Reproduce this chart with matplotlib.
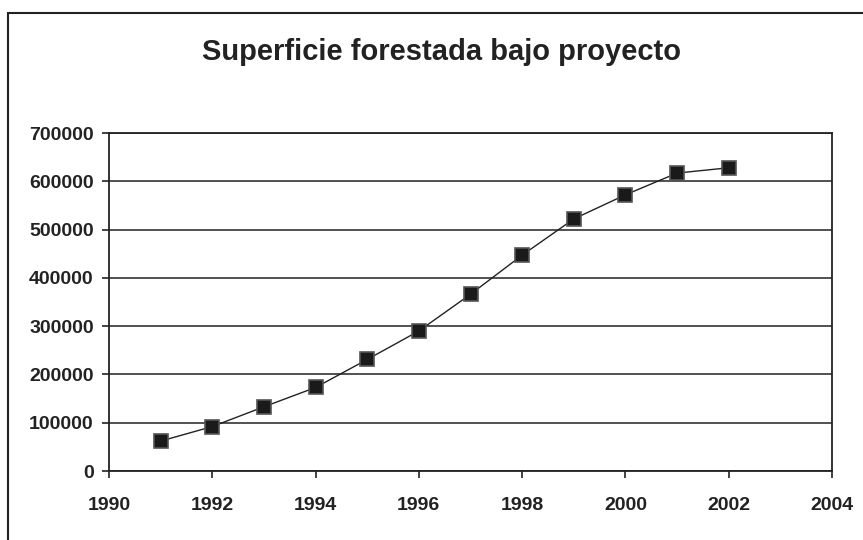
import matplotlib
matplotlib.use("Agg")
import matplotlib.pyplot as plt
from matplotlib.patches import Rectangle

years = [1991, 1992, 1993, 1994, 1995, 1996, 1997, 1998, 1999, 2000, 2001, 2002]
area = [62000, 92000, 133000, 173000, 231000, 290000, 366000, 447000, 522000, 572000, 617000, 628000]
xticks = [1990, 1992, 1994, 1996, 1998, 2000, 2002, 2004]
yticks = [0, 100000, 200000, 300000, 400000, 500000, 600000, 700000]
title = "Superficie forestada bajo proyecto"

plt.rcParams['font.family'] = ['Liberation Sans', 'DejaVu Sans']

W, H = 863, 540
fig = plt.figure(figsize=(W/100, H/100), dpi=100)
fig.patch.set_facecolor('white')

# outer frame
fig.add_artist(Rectangle((8/W, -0.1), 1.2, (H-13)/H + 0.1, transform=fig.transFigure,
                         fill=False, edgecolor='#222222', linewidth=1.5))

ax = fig.add_axes([109/W, 1-471/H, (832-109)/W, (471-133)/H])
ax.plot(years, area, color='#222222', linewidth=1.0, zorder=3)
ax.plot(years, area, linestyle='none', marker='s', markersize=9.5,
        markerfacecolor='#1a1a1a', markeredgecolor='#555555', markeredgewidth=1.2, zorder=4)
ax.set_xlim(1990, 2004)
ax.set_ylim(0, 700000)
ax.set_xticks(xticks)
ax.set_yticks(yticks)
ax.set_xticklabels([str(x) for x in xticks])
ax.set_yticklabels([str(y) for y in yticks])
ax.grid(axis='y', color='#333333', linewidth=1.2)
ax.set_axisbelow(True)
for s in ax.spines.values():
    s.set_color('#222222')
    s.set_linewidth(1.3)
ax.tick_params(axis='both', direction='out', length=5, width=1.2, color='#222222',
               labelsize=14, colors='#222222')
ax.tick_params(axis='x', pad=14)
ax.tick_params(axis='y', pad=6)
for lab in ax.get_xticklabels() + ax.get_yticklabels():
    lab.set_fontweight('bold')

fig.text(441/W, 1-52/H, title, ha='center', va='center', fontsize=21,
         fontweight='bold', color='#222222')

fig.savefig("out.png", dpi=100)
